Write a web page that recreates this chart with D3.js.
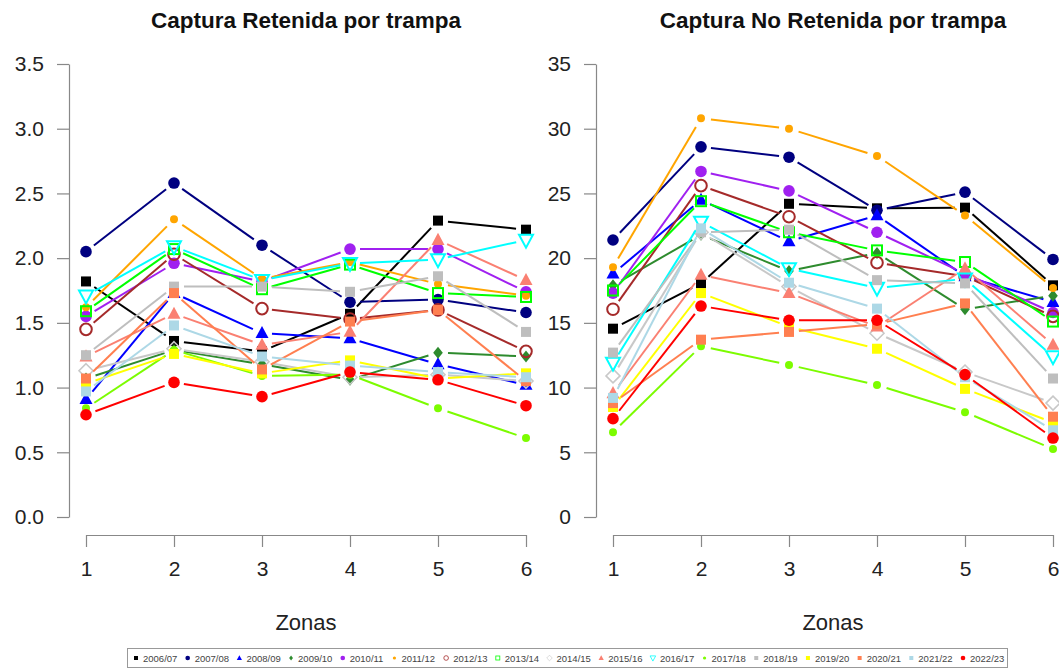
<!DOCTYPE html>
<html><head><meta charset="utf-8">
<script src="https://cdn.jsdelivr.net/npm/d3@7"></script>
<style>body{margin:0;background:#fff}svg{display:block}text{font-family:"Liberation Sans",Arial,sans-serif}</style>
</head><body><svg id="c" width="1059" height="670"></svg>
<script>
const zonas = [1, 2, 3, 4, 5, 6];
const seasons = ["2006/07","2007/08","2008/09","2009/10","2010/11","2011/12","2012/13","2013/14","2014/15","2015/16","2016/17","2017/18","2018/19","2019/20","2020/21","2021/22","2022/23"];
const retenidaTicks = [0, 0.5, 1, 1.5, 2, 2.5, 3, 3.5];
const noRetenidaTicks = [0, 5, 10, 15, 20, 25, 30, 35];
// Captura Retenida por trampa (one row per season, zonas 1..6)
const retenida = [
  [1.82, 1.36, 1.28, 1.57, 2.29, 2.22],
  [2.05, 2.58, 2.10, 1.66, 1.68, 1.58],
  [0.91, 1.73, 1.42, 1.38, 1.18, 1.02],
  [1.07, 1.29, 1.18, 1.06, 1.27, 1.24],
  [1.55, 1.96, 1.82, 2.07, 2.07, 1.74],
  [1.62, 2.30, 1.84, 1.97, 1.80, 1.71],
  [1.45, 2.03, 1.61, 1.53, 1.60, 1.28],
  [1.59, 2.07, 1.76, 1.95, 1.73, 1.70],
  [1.13, 1.30, 1.20, 1.08, 1.10, 1.05],
  [1.24, 1.57, 1.33, 1.43, 2.14, 1.83],
  [1.71, 2.09, 1.83, 1.96, 1.99, 2.14],
  [0.84, 1.29, 1.09, 1.10, 0.84, 0.61],
  [1.25, 1.78, 1.78, 1.74, 1.86, 1.43],
  [1.03, 1.26, 1.11, 1.21, 1.07, 1.11],
  [1.07, 1.73, 1.14, 1.51, 1.60, 1.05],
  [0.97, 1.48, 1.24, 1.17, 1.12, 1.08],
  [0.79, 1.04, 0.93, 1.12, 1.06, 0.86]
];
// Captura No Retenida por trampa
const noRetenida = [
  [14.55, 18.05, 24.2, 23.85, 23.9, 17.9],
  [21.4, 28.6, 27.8, 23.7, 25.1, 19.9],
  [18.8, 24.5, 21.3, 23.3, 18.6, 16.6],
  [17.9, 21.8, 19.0, 20.4, 16.05, 17.1],
  [17.3, 26.7, 25.2, 22.0, 18.8, 15.8],
  [19.3, 30.8, 30.0, 27.9, 23.3, 17.7],
  [16.05, 25.6, 23.2, 19.65, 18.6, 15.5],
  [17.5, 24.4, 22.0, 20.6, 19.7, 15.1],
  [10.9, 22.0, 17.8, 14.2, 11.2, 8.8],
  [9.56, 18.7, 17.3, 14.7, 19.2, 13.3],
  [11.9, 22.8, 19.2, 17.7, 18.4, 12.4],
  [6.55, 13.2, 11.75, 10.2, 8.1, 5.25],
  [12.7, 22.0, 22.2, 18.3, 18.05, 10.7],
  [8.5, 17.3, 14.7, 13.0, 9.9, 7.3],
  [8.8, 13.7, 14.3, 14.9, 16.5, 7.75],
  [9.2, 22.3, 18.1, 16.1, 10.8, 6.7],
  [7.6, 16.3, 15.2, 15.2, 11.0, 6.1]
];
// styles
const colors = ["#000000","#000080","#0000FF","#2E8B2E","#A020F0","#FFA500","#A52A2A","#00FF00","#C8C8C8","#FA8072","#00FFFF","#7CFC00","#BEBEBE","#FFFF00","#FF7F50","#ADD8E6","#FF0000"];
const shapes = ["sq","ci","tr","di","ci","sm","oc","os","od","tr","ot","sm","sq","sq","sq","sq","ci"];

const svg = d3.select("#c");

function drawMarker(g, shape, x, y, col, s) {
  s = s || 1;
  if (shape === "sq") g.append("rect").attr("x", x-5*s).attr("y", y-5*s).attr("width", 10*s).attr("height", 10*s).attr("fill", col);
  else if (shape === "ci") g.append("circle").attr("cx", x).attr("cy", y).attr("r", 5.8*s).attr("fill", col);
  else if (shape === "sm") g.append("circle").attr("cx", x).attr("cy", y).attr("r", 4*s).attr("fill", col);
  else if (shape === "tr") { const h=6.5*s; g.append("path").attr("d", `M${x},${y-h*1.1}L${x+h},${y+h*0.75}L${x-h},${y+h*0.75}Z`).attr("fill", col); }
  else if (shape === "di") { const h=6*s; g.append("path").attr("d", `M${x},${y-h}L${x+h*0.8},${y}L${x},${y+h}L${x-h*0.8},${y}Z`).attr("fill", col); }
  else if (shape === "oc") g.append("circle").attr("cx", x).attr("cy", y).attr("r", 5.8*s).attr("fill", "none").attr("stroke", col).attr("stroke-width", 2*s);
  else if (shape === "os") g.append("rect").attr("x", x-5*s).attr("y", y-5*s).attr("width", 10*s).attr("height", 10*s).attr("fill", "none").attr("stroke", col).attr("stroke-width", 2*s);
  else if (shape === "od") { const h=7*s; g.append("path").attr("d", `M${x},${y-h}L${x+h},${y}L${x},${y+h}L${x-h},${y}Z`).attr("fill", "none").attr("stroke", col).attr("stroke-width", 1.6*s); }
  else if (shape === "ot") { const h=7*s; g.append("path").attr("d", `M${x-h},${y-h*0.75}L${x+h},${y-h*0.75}L${x},${y+h*1.1}Z`).attr("fill", "none").attr("stroke", col).attr("stroke-width", 2*s); }
}

function panel(opts) {
  const {x0, x1, data, ticks, fmt, title} = opts;
  const x = d3.scaleLinear().domain([1, 6]).range([x0, x1]);
  const y = d3.scaleLinear().domain([ticks[0], ticks[ticks.length-1]]).range([517, 64]);
  const g = svg.append("g");
  g.append("text").attr("x", (x0+x1)/2).attr("y", 28).attr("text-anchor", "middle")
    .attr("font-size", 22.5).attr("font-weight", "bold").attr("fill", "#111").text(title);
  const ya = g.append("g").attr("transform", `translate(${x0-17},0)`)
    .call(d3.axisLeft(y).tickValues(ticks).tickFormat(fmt).tickSize(12).tickSizeOuter(0).tickPadding(13));
  ya.select(".domain").attr("stroke", "#888").attr("stroke-width", 1.2);
  ya.selectAll(".tick line").attr("stroke", "#888").attr("stroke-width", 1.2);
  ya.selectAll(".tick text").attr("font-size", 21).attr("fill", "#222").attr("font-family", "Liberation Sans, Arial, sans-serif");
  const xa = g.append("g").attr("transform", `translate(0,535)`)
    .call(d3.axisBottom(x).tickValues(zonas).tickFormat(d3.format("d")).tickSize(12).tickSizeOuter(0).tickPadding(14));
  xa.select(".domain").attr("stroke", "#888").attr("stroke-width", 1.2);
  xa.selectAll(".tick line").attr("stroke", "#888").attr("stroke-width", 1.2);
  xa.selectAll(".tick text").attr("font-size", 21).attr("fill", "#222").attr("font-family", "Liberation Sans, Arial, sans-serif");
  g.append("text").attr("x", (x0+x1)/2).attr("y", 630).attr("text-anchor", "middle")
    .attr("font-size", 22).attr("fill", "#222").text("Zonas");
  const gap = 10;
  data.forEach((vals, i) => {
    const sg = g.append("g");
    const pts = vals.map((v, j) => [x(zonas[j]), y(v)]);
    for (let j = 0; j < pts.length-1; j++) {
      const [ax, ay] = pts[j], [bx, by] = pts[j+1];
      const L = Math.hypot(bx-ax, by-ay);
      if (L <= 2*gap) continue;
      const ux = (bx-ax)/L, uy = (by-ay)/L;
      sg.append("line").attr("x1", ax+ux*gap).attr("y1", ay+uy*gap)
        .attr("x2", bx-ux*gap).attr("y2", by-uy*gap)
        .attr("stroke", colors[i]).attr("stroke-width", 2);
    }
    pts.forEach(([px, py]) => drawMarker(sg, shapes[i], px, py, colors[i], 1));
  });
}

panel({x0: 86, x1: 526, data: retenida, ticks: retenidaTicks, fmt: d3.format(".1f"), title: "Captura Retenida por trampa"});
panel({x0: 613, x1: 1053, data: noRetenida, ticks: noRetenidaTicks, fmt: d3.format("d"), title: "Captura No Retenida por trampa"});

const lg = svg.append("g");
lg.append("rect").attr("x", 127.5).attr("y", 648.5).attr("width", 880).attr("height", 19)
  .attr("fill", "#fff").attr("stroke", "#999").attr("stroke-width", 1);
const lx = d3.scaleLinear().domain([0, seasons.length-1]).range([136, 963]);
seasons.forEach((s, i) => {
  drawMarker(lg, shapes[i], lx(i), 658, colors[i], 0.4);
  lg.append("text").attr("x", lx(i)+7).attr("y", 661.5).attr("font-size", 9.5).attr("fill", "#444").text(s);
});
</script></body></html>
